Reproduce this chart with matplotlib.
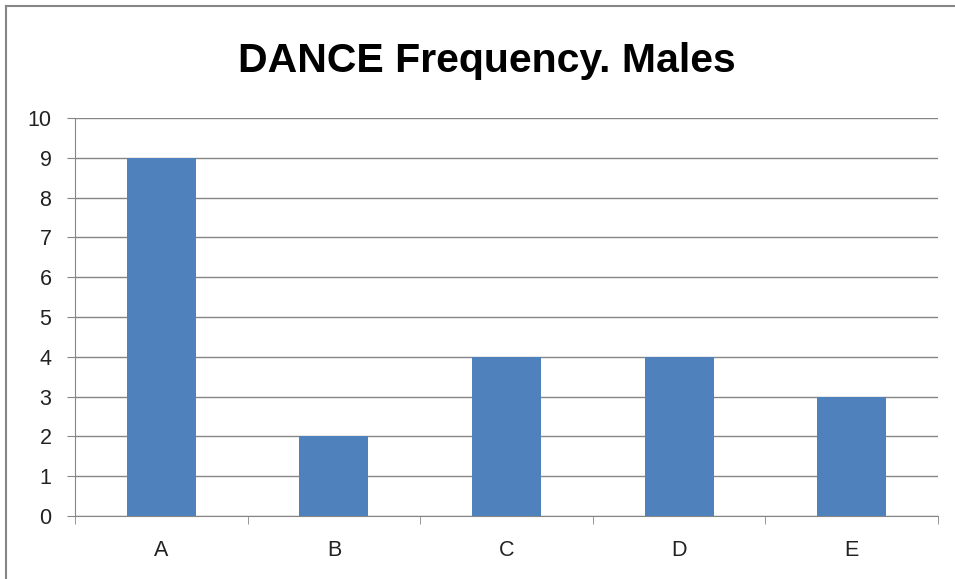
import matplotlib.pyplot as plt
from matplotlib.lines import Line2D
import numpy as np

categories = ['A', 'B', 'C', 'D', 'E']
counts = [9, 2, 4, 4, 3]
yticks = np.arange(0, 11, 1)

plt.rcParams['font.family'] = ['Liberation Sans', 'DejaVu Sans']

fig = plt.figure(figsize=(9.55, 5.79), dpi=100)
ax = fig.add_axes([75/955, 1 - 516/579, (938 - 75)/955, (516 - 118)/579])

x = np.arange(len(categories))
ax.bar(x, counts, width=0.4, color='#4f81bd', zorder=3)

ax.set_xlim(-0.5, len(categories) - 0.5)
ax.set_ylim(0, 10)
ax.set_yticks(yticks)
ax.set_xticks(x)
ax.set_xticklabels(categories)
ax.set_xticks(np.arange(-0.5, len(categories)), minor=True)
ax.tick_params(axis='x', which='major', length=0, pad=17, labelsize=15.5, labelcolor='#222222')
ax.tick_params(axis='x', which='minor', length=6, color='#868686', direction='out')
ax.tick_params(axis='y', length=6, color='#868686', labelsize=15.5, pad=11, labelcolor='#222222')

ax.grid(axis='y', color='#868686', linewidth=1, zorder=0)
for side in ['top', 'right']:
    ax.spines[side].set_visible(False)
ax.spines['left'].set_color('#868686')
ax.spines['bottom'].set_color('#868686')

fig.text(487/955, 1 - 72/579, 'DANCE Frequency. Males', ha='center', va='baseline',
         fontsize=29.5, fontweight='bold')

# chart area border (only top and left are inside the picture)
fig.add_artist(Line2D([6/955, 6/955], [0, 1 - 6/579], transform=fig.transFigure, color='#868686', lw=1.5))
fig.add_artist(Line2D([6/955, 1], [1 - 6/579, 1 - 6/579], transform=fig.transFigure, color='#868686', lw=1.5))

fig.savefig('out.png', dpi=100)
